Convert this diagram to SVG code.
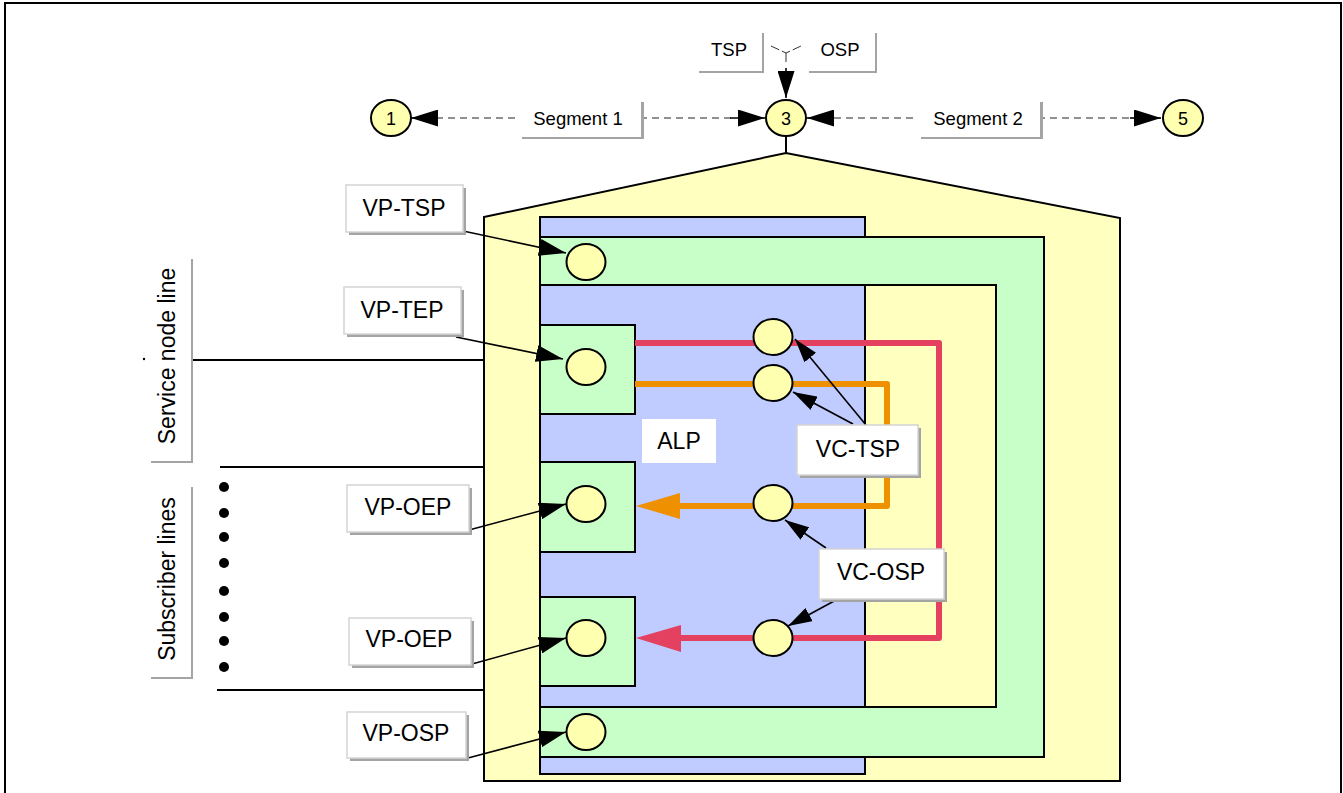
<svg xmlns="http://www.w3.org/2000/svg" width="1343" height="793" viewBox="0 0 1343 793">
<style>
text{font-family:"Liberation Sans",Arial,sans-serif;fill:#000;text-anchor:middle}
.t22{font-size:23px}
.t18{font-size:18.5px}
.t17{font-size:18px}
.stk{stroke:#000;stroke-width:2}
.yel{fill:#FFFFC0}
.blue{fill:#C0CCFF}
.green{fill:#C8FFC8}
.pt{fill:#FFFFB0;stroke:#000;stroke-width:2}
.shadow{fill:#A4A4A4}
.box{fill:#fff;stroke:#D4D4D4;stroke-width:1.5}
.plain{fill:#fff}
.dash{stroke:#222;stroke-width:1.2;stroke-dasharray:7 5;fill:none}
.arr{stroke:#000;stroke-width:1.6;fill:none;marker-end:url(#ah)}
.arrs{stroke:#000;stroke-width:1.6;fill:none;marker-end:url(#ahs)}
.red{stroke:#E4405F;stroke-width:6;fill:none;stroke-linejoin:round}
.org{stroke:#EE9000;stroke-width:6;fill:none;stroke-linejoin:round}
.ln{stroke:#000;stroke-width:2}
</style>
<defs>
<marker id="ah" viewBox="0 0 27 17" refX="27" refY="8.5" markerWidth="27" markerHeight="17" markerUnits="userSpaceOnUse" orient="auto"><path d="M0,0 L27,8.5 L0,17 z" fill="#000"/></marker>
<marker id="ahs" viewBox="0 0 24 15" refX="24" refY="7.5" markerWidth="24" markerHeight="15" markerUnits="userSpaceOnUse" orient="auto"><path d="M0,0 L24,7.5 L0,15 z" fill="#000"/></marker>
</defs>

<rect x="5" y="3" width="1336" height="800" fill="#fff" stroke="#000" stroke-width="2"/>

<!-- structure -->
<g id="house">
<polygon class="yel stk" points="484,217 786,153 1120,218 1120,781 484,781"/>
<line class="ln" x1="786" y1="136" x2="786" y2="153"/>
</g>
<g id="alp-area">
<rect class="blue stk" x="540" y="217" width="325" height="557"/>
</g>
<g id="vp-band">
<polygon class="green stk" points="540,237 1044,237 1044,757 540,757 540,707 996,707 996,285 540,285"/>
</g>
<g id="tep-block"><rect class="green stk" x="540" y="325" width="95" height="89"/></g>
<g id="oep1-block"><rect class="green stk" x="540" y="462" width="95" height="90"/></g>
<g id="oep2-block"><rect class="green stk" x="540" y="597" width="95" height="89"/></g>

<g id="lines">
<line class="ln" x1="192" y1="360" x2="484" y2="360"/>
<line class="ln" x1="220" y1="467" x2="484" y2="467"/>
<line class="ln" x1="217" y1="690" x2="484" y2="690"/>
<circle cx="224" cy="487" r="5"/>
<circle cx="224" cy="513" r="5"/>
<circle cx="224" cy="537" r="5"/>
<circle cx="224" cy="563" r="5"/>
<circle cx="224" cy="591" r="5"/>
<circle cx="224" cy="617" r="5"/>
<circle cx="224" cy="641" r="5"/>
<circle cx="224" cy="667" r="5"/>
<circle cx="144" cy="359" r="1.2"/>
</g>

<!-- connectors -->
<g id="connectors">
<line class="dash" x1="436" y1="118" x2="731" y2="118"/>
<line class="arr" x1="436" y1="118" x2="411" y2="118"/>
<line class="arr" x1="730" y1="118" x2="765" y2="118"/>
<line class="dash" x1="834" y1="118" x2="1130" y2="118"/>
<line class="arr" x1="834" y1="118" x2="807" y2="118"/>
<line class="arr" x1="1130" y1="118" x2="1161" y2="118"/>
<path d="M771,46 L786,53 L801,46 M786,53 V63" stroke="#333" stroke-width="1" fill="none" stroke-dasharray="9 3"/>
<line class="arr" x1="786" y1="68" x2="786" y2="98"/>

<path class="red" d="M635,343 H939 V638 H678"/>
<polygon fill="#E4405F" points="681,625 681,652 636,638"/>
<path class="org" d="M635,384 H887 V506 H678"/>
<polygon fill="#EE9000" points="680,493 680,519 636,506"/>

<line class="arr" x1="463" y1="231" x2="566" y2="253"/>
<line class="arr" x1="456" y1="337" x2="563" y2="359"/>
<line class="arr" x1="469" y1="530" x2="566" y2="504"/>
<line class="arr" x1="472" y1="664" x2="566" y2="638"/>
<line class="arr" x1="468" y1="758" x2="566" y2="732"/>

<line class="arrs" x1="866" y1="425" x2="795" y2="339"/>
<line class="arrs" x1="853" y1="424" x2="793" y2="392"/>
<line class="arrs" x1="826" y1="548" x2="785" y2="520"/>
<line class="arrs" x1="836" y1="600" x2="788" y2="626"/>
</g>

<!-- points -->
<g id="n1"><ellipse class="pt" cx="391" cy="118" rx="20" ry="18"/><text class="t17" x="391" y="124.5">1</text></g>
<g id="n3"><ellipse class="pt" cx="786" cy="118" rx="20" ry="18"/><text class="t17" x="786" y="124.5">3</text></g>
<g id="n5"><ellipse class="pt" cx="1183" cy="118" rx="20" ry="18"/><text class="t17" x="1183" y="124.5">5</text></g>

<g id="p-vptsp"><ellipse class="pt" cx="586" cy="262" rx="19.5" ry="18"/></g>
<g id="p-vptep"><ellipse class="pt" cx="586" cy="367" rx="19.5" ry="18"/></g>
<g id="p-vpoep1"><ellipse class="pt" cx="586" cy="504" rx="19.5" ry="18"/></g>
<g id="p-vpoep2"><ellipse class="pt" cx="586" cy="638" rx="19.5" ry="18"/></g>
<g id="p-vposp"><ellipse class="pt" cx="586" cy="732" rx="19.5" ry="18"/></g>
<g id="p-vc1"><ellipse class="pt" cx="773" cy="337" rx="19.5" ry="18"/></g>
<g id="p-vc2"><ellipse class="pt" cx="773" cy="383" rx="19.5" ry="18"/></g>
<g id="p-vc3"><ellipse class="pt" cx="773" cy="503" rx="19.5" ry="18"/></g>
<g id="p-vc4"><ellipse class="pt" cx="773" cy="638" rx="19.5" ry="18"/></g>

<!-- labels -->
<g id="lbl-tsp"><rect class="shadow" x="699" y="33" width="65" height="40"/><rect class="plain" x="697" y="30" width="65" height="41"/><text class="t18" x="729" y="56">TSP</text></g>
<g id="lbl-osp"><rect class="shadow" x="809" y="33" width="68" height="40"/><rect class="plain" x="807" y="30" width="68" height="41"/><text class="t18" x="840" y="56">OSP</text></g>
<g id="lbl-seg1"><rect class="shadow" x="522" y="102" width="122" height="37"/><rect class="plain" x="519" y="99" width="122" height="38"/><text class="t18" x="578" y="124.5">Segment 1</text></g>
<g id="lbl-seg2"><rect class="shadow" x="921" y="102" width="122" height="37"/><rect class="plain" x="918" y="99" width="122" height="38"/><text class="t18" x="978" y="124.5">Segment 2</text></g>

<g id="lbl-service"><rect class="shadow" x="151" y="259" width="42" height="204"/><rect class="plain" x="149" y="257" width="42" height="204"/><text class="t22" transform="translate(167,356) rotate(-90)" x="0" y="8">Service node line</text></g>
<g id="lbl-subscriber"><rect class="shadow" x="151" y="487" width="42" height="192"/><rect class="plain" x="149" y="485" width="42" height="192"/><text class="t22" transform="translate(167,579) rotate(-90)" x="0" y="8">Subscriber lines</text></g>

<g id="lbl-vptsp"><rect class="shadow" x="349" y="188" width="117" height="47"/><rect class="box" x="346" y="185" width="117" height="47"/><text class="t22" x="404" y="216">VP-TSP</text></g>
<g id="lbl-vptep"><rect class="shadow" x="347" y="290" width="117" height="47"/><rect class="box" x="344" y="287" width="117" height="47"/><text class="t22" x="402" y="318">VP-TEP</text></g>
<g id="lbl-vpoep1"><rect class="shadow" x="350" y="488" width="122" height="47"/><rect class="box" x="347" y="485" width="122" height="47"/><text class="t22" x="408" y="515">VP-OEP</text></g>
<g id="lbl-vpoep2"><rect class="shadow" x="352" y="621" width="122" height="47"/><rect class="box" x="349" y="618" width="122" height="47"/><text class="t22" x="409" y="647">VP-OEP</text></g>
<g id="lbl-vposp"><rect class="shadow" x="350" y="715" width="119" height="46"/><rect class="box" x="347" y="712" width="119" height="46"/><text class="t22" x="406" y="741">VP-OSP</text></g>

<g id="lbl-alp"><rect class="plain" x="642" y="419" width="74" height="44"/><text class="t22" x="679" y="449">ALP</text></g>
<g id="lbl-vctsp"><rect class="shadow" x="800" y="428" width="121" height="50"/><rect class="box" x="797" y="425" width="121" height="50"/><text class="t22" x="858" y="457">VC-TSP</text></g>
<g id="lbl-vcosp"><rect class="shadow" x="822" y="552" width="125" height="50"/><rect class="box" x="819" y="549" width="125" height="50"/><text class="t22" x="881" y="580">VC-OSP</text></g>
</svg>
